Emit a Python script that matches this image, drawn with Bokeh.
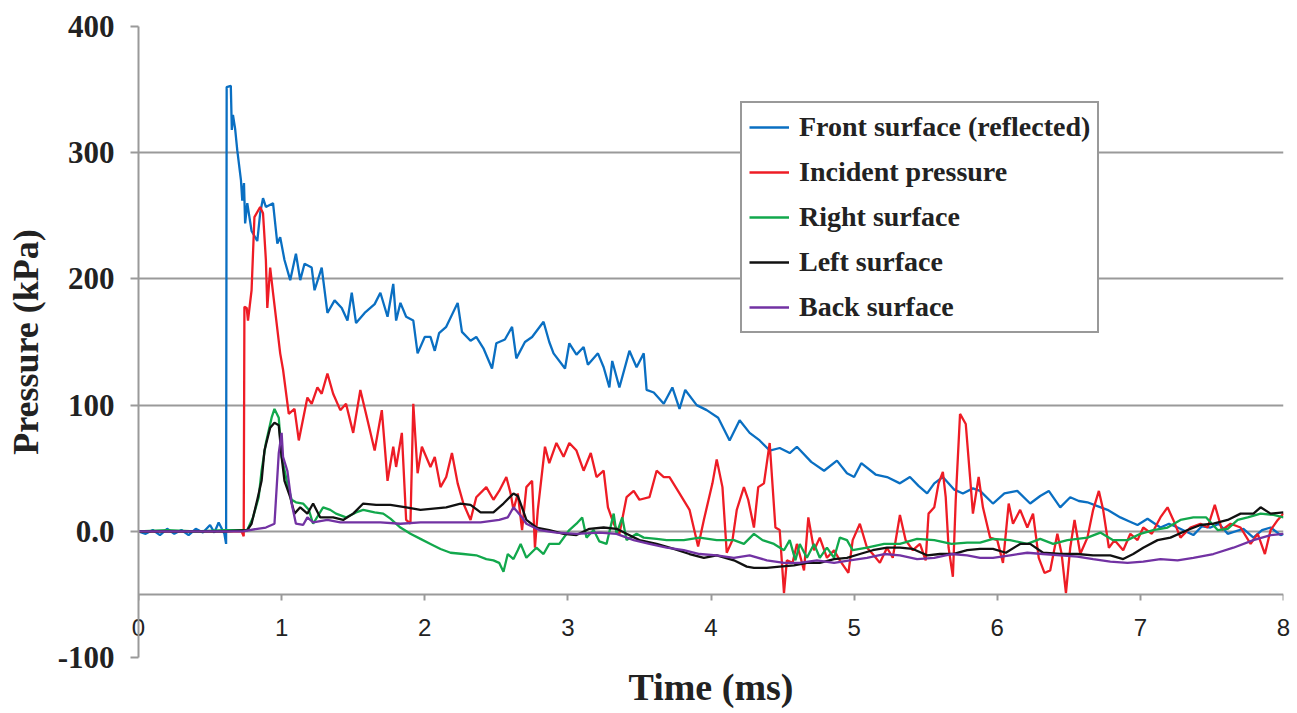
from bokeh.plotting import figure
from bokeh.models import Range1d, FixedTicker, Legend, LegendItem, LinearAxis
from bokeh.embed import file_html
from bokeh.resources import INLINE

# ---------------- data ----------------
front_t = [0.00, 0.05, 0.10, 0.15, 0.20, 0.25, 0.30, 0.35, 0.40, 0.45, 0.50, 0.53, 0.56, 0.60,
           0.612, 0.616, 0.645, 0.652, 0.66, 0.675, 0.69, 0.716, 0.725, 0.737, 0.745, 0.76, 0.79,
           0.83, 0.85, 0.87, 0.89, 0.94, 0.97, 0.99, 1.02, 1.06, 1.10, 1.13, 1.16, 1.21, 1.23,
           1.28, 1.32, 1.37, 1.42, 1.46, 1.49, 1.52, 1.58, 1.65, 1.69, 1.74, 1.78, 1.80, 1.83,
           1.87, 1.92, 1.95, 2.00, 2.04, 2.07, 2.10, 2.15, 2.23, 2.26, 2.32, 2.36, 2.41, 2.47,
           2.50, 2.56, 2.61, 2.64, 2.70, 2.75, 2.83, 2.87, 2.90, 2.98, 3.01, 3.06, 3.11, 3.14,
           3.21, 3.25, 3.29, 3.31, 3.36, 3.43, 3.48, 3.53, 3.55, 3.60, 3.67, 3.73, 3.78, 3.82,
           3.90, 3.97, 4.05, 4.13, 4.20, 4.27, 4.34, 4.41, 4.48, 4.55, 4.60, 4.70, 4.79, 4.88,
           4.95, 5.00, 5.05, 5.15, 5.23, 5.32, 5.39, 5.45, 5.51, 5.56, 5.62, 5.70, 5.76, 5.83,
           5.88, 5.97, 6.05, 6.14, 6.23, 6.30, 6.36, 6.44, 6.51, 6.57, 6.63, 6.70, 6.77, 6.86,
           6.92, 6.98, 7.05, 7.14, 7.20, 7.26, 7.37, 7.43, 7.49, 7.55, 7.61, 7.72, 7.79, 7.85,
           7.91, 7.98, 8.00]
front_p = [0, -2, 1, -3, 2, -2, 1, -3, 2, -1, 5, -1, 7, -2,
           -10, 352, 353, 318, 330, 319, 302, 278, 262, 276, 244, 260, 238,
           230, 252, 264, 257, 260, 228, 233, 215, 199, 220, 199, 212, 209, 191,
           209, 173, 183, 177, 167, 189, 165, 173, 180, 189, 170, 196, 167, 181,
           170, 167, 141, 154, 154, 143, 157, 162, 181, 158, 151, 154, 145, 129,
           149, 152, 162, 137, 150, 154, 166, 150, 141, 129, 149, 140, 146, 132,
           141, 130, 114, 135, 114, 143, 130, 141, 112, 110, 101, 114, 97, 112,
           100, 96, 90, 72, 88, 78, 72, 64, 66, 62, 67, 55, 48, 56,
           46, 43, 54, 45, 43, 38, 43, 36, 30, 38, 43, 33, 30, 34,
           32, 22, 30, 32, 22, 28, 32, 19, 27, 24, 23, 20, 17, 11,
           8, 5, 10, 3, 6, 3, -3, 4, 3, 6, -2, 2, -5, 1,
           3, -3, -2]

incident_t = [0.00, 0.20, 0.40, 0.60, 0.72, 0.735, 0.74, 0.756, 0.765, 0.79, 0.81, 0.85, 0.87,
              0.89, 0.90, 0.92, 0.94, 0.99, 1.01, 1.05, 1.09, 1.12, 1.18, 1.21, 1.25, 1.28,
              1.32, 1.36, 1.41, 1.45, 1.50, 1.55, 1.59, 1.65, 1.70, 1.74, 1.78, 1.80, 1.84,
              1.87, 1.90, 1.92, 1.95, 1.98, 2.04, 2.07, 2.11, 2.15, 2.19, 2.23, 2.27, 2.32,
              2.36, 2.43, 2.48, 2.52, 2.57, 2.60, 2.62, 2.65, 2.68, 2.71, 2.75, 2.77, 2.79,
              2.84, 2.87, 2.92, 2.97, 3.01, 3.06, 3.11, 3.16, 3.20, 3.25, 3.28, 3.32, 3.36,
              3.41, 3.46, 3.50, 3.57, 3.62, 3.67, 3.71, 3.78, 3.85, 3.91, 3.95, 4.01, 4.04,
              4.08, 4.11, 4.15, 4.18, 4.23, 4.26, 4.30, 4.33, 4.37, 4.41, 4.45, 4.48, 4.51,
              4.53, 4.57, 4.60, 4.65, 4.68, 4.72, 4.76, 4.81, 4.86, 4.90, 4.96, 4.99, 5.04,
              5.09, 5.13, 5.18, 5.23, 5.27, 5.32, 5.36, 5.41, 5.46, 5.50, 5.52, 5.56, 5.59,
              5.62, 5.64, 5.66, 5.69, 5.71, 5.74, 5.78, 5.81, 5.83, 5.87, 5.90, 5.95, 6.00,
              6.04, 6.08, 6.11, 6.16, 6.21, 6.25, 6.29, 6.33, 6.37, 6.42, 6.45, 6.48, 6.51,
              6.54, 6.58, 6.63, 6.67, 6.71, 6.74, 6.78, 6.82, 6.88, 6.93, 6.98, 7.02, 7.08,
              7.14, 7.19, 7.23, 7.28, 7.35, 7.42, 7.47, 7.52, 7.57, 7.63, 7.70, 7.77, 7.82,
              7.87, 7.91, 7.96, 8.00]
incident_p = [0, 0, 0, 0, 0, -4, 178, 177, 167, 191, 249, 257, 252,
              215, 177, 209, 189, 141, 128, 93, 97, 72, 106, 101, 114, 109,
              125, 109, 96, 101, 78, 112, 93, 64, 96, 40, 67, 51, 78,
              9, 6, 101, 46, 67, 51, 59, 35, 43, 62, 38, 22, 9,
              27, 35, 25, 32, 43, 30, 17, 30, 1, 35, 40, -13, 17,
              67, 54, 70, 59, 70, 64, 48, 62, 43, 48, 19, 6, -2,
              27, 32, 25, 27, 48, 43, 43, 30, 17, -12, 9, 38, 57,
              35, -17, -7, 17, 35, 25, 3, 35, 38, 70, 3, 1, -49,
              -23, -25, -10, -31, 11, -15, -5, -21, -15, -23, -33, -7, 6,
              -13, -18, -25, -13, -21, 13, -7, -15, -10, -23, 14, 19, 38,
              47, 27, -13, -36, 25, 93, 85, 43, 14, 43, 19, -5, -7,
              -25, 22, 6, 17, 3, 14, -21, -33, -31, -2, -18, -49, -13,
              9, -18, -5, 17, 32, 17, -13, -7, -15, -2, -7, 3, -2,
              11, 19, 9, -5, 3, 6, 3, 21, 1, 6, 3, -10, -2,
              -18, 1, 9, 14]

right_t = [0.00, 0.20, 0.40, 0.60, 0.76, 0.80, 0.84, 0.86, 0.89, 0.93, 0.95, 0.98, 1.00, 1.04,
           1.07, 1.10, 1.15, 1.19, 1.22, 1.29, 1.34, 1.38, 1.45, 1.52, 1.57, 1.65, 1.71, 1.76,
           1.83, 1.90, 1.97, 2.04, 2.11, 2.18, 2.27, 2.36, 2.43, 2.48, 2.52, 2.55, 2.58, 2.62,
           2.65, 2.67, 2.71, 2.78, 2.83, 2.87, 2.94, 3.01, 3.06, 3.10, 3.13, 3.18, 3.22, 3.27,
           3.32, 3.34, 3.38, 3.41, 3.48, 3.53, 3.62, 3.69, 3.81, 3.92, 4.04, 4.16, 4.23, 4.30,
           4.36, 4.44, 4.51, 4.55, 4.59, 4.62, 4.67, 4.72, 4.76, 4.81, 4.86, 4.90, 4.95, 4.99,
           5.09, 5.21, 5.32, 5.44, 5.56, 5.68, 5.79, 5.88, 5.97, 6.09, 6.21, 6.30, 6.39, 6.49,
           6.63, 6.72, 6.81, 6.91, 7.00, 7.09, 7.19, 7.28, 7.37, 7.46, 7.54, 7.61, 7.68, 7.75,
           7.84, 7.93, 8.00]
right_p = [0, 1, 0, 1, 1, 11, 27, 48, 70, 90, 97, 90, 59, 38,
           25, 23, 22, 17, 6, 19, 17, 14, 11, 15, 17, 15, 14, 10,
           3, -2, -6, -10, -14, -17, -18, -19, -22, -23, -25, -32, -18, -22,
           -15, -10, -21, -13, -18, -10, -10, 1, 6, 11, -5, 1, -8, -10,
           14, -2, 11, -7, -2, -5, -6, -7, -7, -5, -7, -7, -10, -2,
           -7, -10, -15, -7, -23, -10, -21, -10, -21, -13, -21, -5, -7, -15,
           -13, -10, -10, -6, -7, -10, -9, -9, -6, -7, -10, -6, -10, -7,
           -5, -1, -7, -7, -2, 1, 3, 9, 11, 11, 1, 2, 9, 11,
           14, 13, 11]

left_t = [0.00, 0.30, 0.60, 0.76, 0.79, 0.83, 0.86, 0.88, 0.92, 0.95, 0.98, 1.00, 1.02, 1.06,
          1.09, 1.13, 1.18, 1.22, 1.27, 1.36, 1.43, 1.50, 1.57, 1.66, 1.76, 1.87, 1.97, 2.06,
          2.15, 2.25, 2.32, 2.39, 2.48, 2.55, 2.62, 2.65, 2.67, 2.71, 2.78, 2.87, 2.97, 3.06,
          3.15, 3.25, 3.34, 3.41, 3.50, 3.62, 3.74, 3.85, 3.95, 4.04, 4.16, 4.25, 4.30, 4.39,
          4.48, 4.58, 4.67, 4.76, 4.86, 4.95, 5.04, 5.13, 5.23, 5.32, 5.41, 5.51, 5.60, 5.69,
          5.79, 5.88, 5.97, 6.06, 6.16, 6.23, 6.32, 6.44, 6.56, 6.67, 6.79, 6.88, 6.95, 7.02,
          7.12, 7.21, 7.33, 7.42, 7.51, 7.61, 7.70, 7.79, 7.84, 7.91, 8.00]
left_p = [0, 0, 0, 1, 6, 25, 40, 64, 82, 86, 84, 59, 40, 27,
          14, 19, 14, 22, 11, 11, 9, 14, 22, 21, 21, 19, 17, 18,
          19, 22, 21, 15, 15, 22, 30, 28, 22, 9, 3, 1, -2, -3,
          2, 3, 2, -2, -7, -10, -14, -18, -21, -19, -23, -28, -29, -29,
          -28, -27, -25, -25, -22, -21, -18, -15, -13, -13, -14, -19, -18, -18,
          -15, -14, -14, -17, -10, -10, -17, -18, -18, -19, -19, -22, -18, -13,
          -7, -5, 1, 5, 6, 9, 14, 14, 19, 14, 15]

back_t = [0.00, 0.30, 0.60, 0.73, 0.83, 0.89, 0.95, 0.98, 1.00, 1.01, 1.04, 1.07, 1.10, 1.15,
          1.18, 1.22, 1.32, 1.41, 1.55, 1.69, 1.83, 1.97, 2.11, 2.25, 2.39, 2.52, 2.58, 2.62,
          2.65, 2.68, 2.71, 2.80, 2.92, 3.06, 3.22, 3.34, 3.46, 3.57, 3.69, 3.81, 3.92, 4.04,
          4.16, 4.27, 4.39, 4.51, 4.62, 4.74, 4.86, 4.97, 5.09, 5.21, 5.32, 5.44, 5.56, 5.68,
          5.79, 5.88, 5.97, 6.09, 6.21, 6.32, 6.44, 6.56, 6.67, 6.79, 6.91, 7.02, 7.14, 7.26,
          7.37, 7.51, 7.65, 7.79, 7.91, 8.00]
back_p = [0, 0, 0, 0, 2, 3, 6, 62, 78, 59, 48, 22, 6, 5,
          11, 7, 9, 7, 7, 7, 6, 7, 7, 7, 7, 9, 11, 19,
          15, 11, 6, 1, -1, -2, -1, -2, -7, -10, -13, -15, -18, -19,
          -21, -19, -23, -25, -25, -23, -25, -23, -21, -18, -19, -22, -21, -18,
          -19, -21, -21, -19, -17, -18, -19, -20, -22, -24, -25, -24, -22, -23,
          -21, -18, -13, -7, -3, -2]

series_names = ["Front surface (reflected)", "Incident pressure", "Right surface",
                "Left surface", "Back surface"]
series_colors = ["#0A6FC2", "#EE1C25", "#12A84C", "#111111", "#7232A3"]

x_ticks = [0, 1, 2, 3, 4, 5, 6, 7, 8]
y_ticks = [-100, 0, 100, 200, 300, 400]
y_tick_text = {0: "0.0", -100: "-100"}
x_axis_level = -50

# ---------------- figure ----------------
GRID = "#9A9A9A"
SERIF = "Liberation Serif"
INK = "#222222"

p = figure(width=1292, height=712, output_backend="svg", toolbar_location=None,
           x_range=Range1d(0, 8), y_range=Range1d(-100, 400),
           min_border_left=138, min_border_right=9, min_border_top=26, min_border_bottom=55)
p.outline_line_color = None
p.background_fill_color = "white"
p.border_fill_color = "white"

# main bottom axis: only tick labels (raised up to sit under the -50 line) and the title
xa = p.xaxis[0]
xa.ticker = FixedTicker(ticks=x_ticks)
xa.axis_line_color = None
xa.major_tick_line_color = None
xa.major_tick_in = 0
xa.major_tick_out = 0
xa.minor_tick_line_color = None
xa.major_label_text_font = "Liberation Sans"
xa.major_label_text_font_size = "24px"
xa.major_label_text_color = INK
xa.major_label_standoff = -39
xa.axis_label = "Time (ms)"
xa.axis_label_text_font = SERIF
xa.axis_label_text_font_style = "bold"
xa.axis_label_text_font_size = "38px"
xa.axis_label_text_color = INK
xa.axis_label_standoff = 27

# the axis line and ticks drawn at -50 inside the frame
xline = LinearAxis(fixed_location=x_axis_level, ticker=FixedTicker(ticks=x_ticks),
                   axis_line_color=GRID, axis_line_width=2,
                   major_tick_line_color=GRID, major_tick_line_width=2,
                   major_tick_in=0, major_tick_out=6, minor_tick_line_color=None,
                   major_label_text_color=None, major_label_text_font_size="1px")
p.add_layout(xline, "below")

ya = p.yaxis[0]
ya.ticker = FixedTicker(ticks=y_ticks)
ya.major_label_overrides = y_tick_text
ya.axis_line_color = GRID
ya.axis_line_width = 2
ya.major_tick_line_color = GRID
ya.major_tick_line_width = 2
ya.major_tick_in = 0
ya.major_tick_out = 8
ya.minor_tick_line_color = None
ya.major_label_text_font = SERIF
ya.major_label_text_font_style = "bold"
ya.major_label_text_font_size = "31px"
ya.major_label_text_color = INK
ya.major_label_standoff = 16
ya.axis_label = "Pressure (kPa)"
ya.axis_label_text_font = SERIF
ya.axis_label_text_font_style = "bold"
ya.axis_label_text_font_size = "36px"
ya.axis_label_text_color = INK
ya.axis_label_standoff = 9

p.xgrid.visible = False
p.ygrid.ticker = FixedTicker(ticks=y_ticks)
p.ygrid.grid_line_color = GRID
p.ygrid.grid_line_width = 2

# ---------------- lines ----------------
data = [(front_t, front_p), (incident_t, incident_p), (right_t, right_p),
        (left_t, left_p), (back_t, back_p)]
items = []
for (t, v), name, col in zip(data, series_names, series_colors):
    r = p.line(t, v, line_color=col, line_width=2.3)
    items.append(LegendItem(label=name, renderers=[r]))

legend = Legend(items=items, location=(602, 324), margin=0, padding=7,
                spacing=11, glyph_width=40, glyph_height=34, label_height=34,
                label_standoff=10, label_text_font=SERIF, label_text_font_style="bold",
                label_text_font_size="28px", label_text_color=INK,
                border_line_color="#333333", border_line_width=2,
                background_fill_color="white", background_fill_alpha=1.0)
p.add_layout(legend)

open("out.html", "w").write(file_html(p, INLINE))
